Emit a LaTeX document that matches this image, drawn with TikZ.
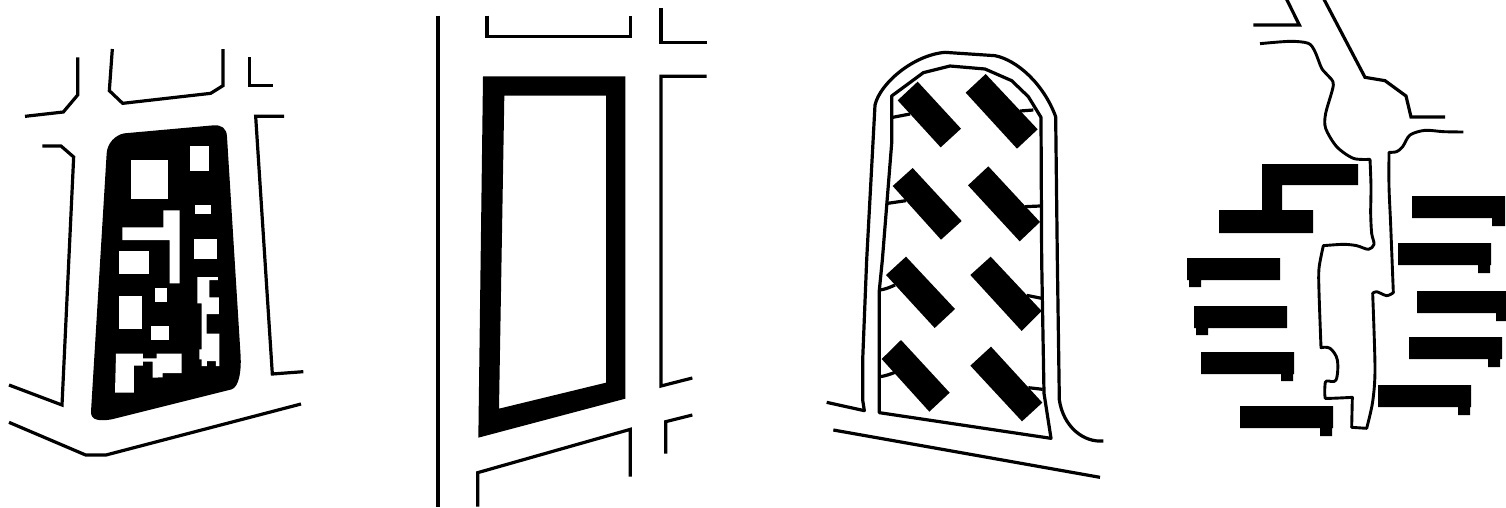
\documentclass[tikz,border=0pt]{standalone}
\tikzset{
  road/.style={draw=black,line width=3.2pt,miter limit=10,fill=none},
  thinroad/.style={draw=black,line width=2.9pt,line join=round},
  zoomed/.style={x=0.33333pt,y=-0.33333pt},
  solid block/.style={fill=black,draw=none},
  hole/.style={fill=white,draw=none}
}
\begin{document}
\begin{tikzpicture}
\useasboundingbox (0pt,0pt) rectangle (1506pt,-507pt);
% Panel 1
\begin{scope}[shift={(0pt,-40pt)},zoomed]
\draw[road] (233,52) -- (233,165) -- (190,216) -- (75,229);
\draw[road] (337,27) -- (328,152) -- (368,190) -- (632,160) -- (669,137) -- (669,27);
\draw[road] (749,52) -- (749,137) -- (820,137);
\draw[road] (852,229) -- (767,229) -- (817,1002) -- (910,995);
\draw[road] (127,318) -- (183,318) -- (221,351) -- (186,1095) -- (27,1035);
\draw[road] (27,1147) -- (257,1245) -- (318,1245) -- (903,1092);
\fill[solid block] (373,280) -- (640,256) .. controls (665,254) and (680,265) .. (681,290)
  -- (722,950) .. controls (724,990) and (718,1040) .. (695,1048)
  -- (335,1138) .. controls (300,1144) and (272,1142) .. (273,1115)
  -- (320,340) .. controls (322,310) and (345,285) .. (373,280) -- cycle;
\fill[hole] (392,361) rectangle (504,476);
\fill[hole] (571,318) rectangle (628,394);
\fill[hole] (584,495) rectangle (633,521);
\fill[hole] (490,511) -- (539,511) -- (539,730) -- (509,730) -- (509,600) -- (367,600) -- (367,562) -- (490,562) -- cycle;
\fill[hole] (583,598) rectangle (650,658);
\fill[hole] (358,633) rectangle (447,703);
\fill[hole] (464,745) rectangle (501,785);
\fill[hole] (358,769) rectangle (425,867);
\fill[hole] (453,858) rectangle (506,900);
\fill[hole] (592,711) -- (654,711) -- (654,720) -- (628,720) -- (628,772) -- (657,772) -- (657,822) -- (620,822) -- (620,881) -- (658,881) -- (658,978) -- (648,978) -- (648,963) -- (621,963) -- (621,978) -- (605,978) -- (605,958) -- (598,958) -- (598,928) -- (605,928) -- (605,790) -- (592,790) -- cycle;
\fill[hole] (348,941) -- (429,941) -- (429,955) -- (470,955) -- (470,941) -- (545,941) -- (545,999) -- (488,999) -- (488,1012) -- (458,1013) -- (458,965) -- (429,965) -- (429,977) -- (402,977) -- (402,1058) -- (345,1058) -- cycle;
\end{scope}
% Panel 2
\begin{scope}[shift={(425pt,0pt)},zoomed]
\draw[road] (39,47) -- (39,1520);
\draw[road] (186,47) -- (186,110) -- (616,110) -- (616,47);
\draw[road] (708,25) -- (708,127) -- (845,127);
\draw[road] (845,229) -- (708,229) -- (708,1158) -- (802,1134);
\draw[road] (722,1361) -- (722,1265) -- (802,1245);
\draw[road] (158,1520) -- (158,1418) -- (616,1288) -- (616,1430);
\fill[solid block,even odd rule] (174,229) -- (601,229) -- (601,1196) -- (160,1313) -- cycle
  (238,287) -- (543,287) -- (543,1148) -- (222,1226) -- cycle;
\end{scope}
% Panel 3, upper crop coordinates
\begin{scope}[shift={(820pt,-40pt)},zoomed]
\draw[road,line join=round] (20,1087) -- (133,1112) -- (128,1080) -- (128,960) -- (140,660) -- (165,195)
  .. controls (180,130) and (280,45) .. (375,37) -- (525,47)
  .. controls (590,60) and (670,130) .. (707,230) -- (712,660) -- (718,1080)
  .. controls (730,1160) and (790,1208) .. (850,1203);
\draw[road,line join=round] (215,168) -- (310,98) -- (390,78) -- (495,87) -- (575,122) -- (625,170) -- (663,232)
  -- (665,660) -- (672,1060) -- (693,1195) -- (178,1118) -- (178,750) -- (187,660) -- (215,310) -- cycle;
\draw[road] (218,232) -- (270,222);
\draw[road] (600,213) -- (640,210);
\draw[road] (203,490) -- (258,482);
\draw[road] (615,500) -- (660,498);
\draw[road] (180,750) .. controls (195,748) and (210,742) .. (225,735);
\draw[road] (620,766) -- (665,775);
\draw[road] (180,1010) .. controls (195,1008) and (210,1003) .. (225,997);
\draw[road] (625,1043) -- (668,1048);
\draw[road] (40,1170) -- (840,1312);
\fill[solid block] (293,125) -- (423,266) -- (362,322) -- (233,181) -- cycle;
\fill[solid block] (497,102) -- (653,268) -- (591,326) -- (437,158) -- cycle;
\fill[solid block] (278,384) -- (425,543) -- (363,599) -- (218,438) -- cycle;
\fill[solid block] (505,379) -- (660,546) -- (599,604) -- (444,436) -- cycle;
\fill[solid block] (258,650) -- (405,807) -- (344,864) -- (198,705) -- cycle;
\fill[solid block] (512,650) -- (665,813) -- (605,873) -- (451,705) -- cycle;
\fill[solid block] (243,900) -- (389,1058) -- (328,1115) -- (185,957) -- cycle;
\fill[solid block] (513,920) -- (667,1088) -- (606,1144) -- (451,977) -- cycle;
\end{scope}
% Panel 4
\begin{scope}[shift={(1180pt,0pt)},zoomed]
\draw[road] (220,75) -- (358,75) -- (320,-2);
\draw[road] (432,-2) -- (555,232) -- (615,242) -- (678,288) -- (693,351) -- (795,351);
\draw[thinroad]
  plot[smooth,tension=.5] coordinates {(240,131) (330,124) (385,130) (405,155) (425,205) (445,228) (460,255) (437,340) (437,385) (470,440) (520,475) (570,478)}
  -- plot[smooth,tension=.5] coordinates {(570,478) (573,560) (572,640) (575,700) (582,733) (565,748) (530,737) (490,733) (430,737)}
  -- plot[smooth,tension=.5] coordinates {(430,737) (417,805) (417,875) (423,1043)}
  -- plot[smooth,tension=.6] coordinates {(423,1043) (450,1045) (472,1080) (468,1140) (440,1143) (435,1155) (435,1190) (445,1195) (517,1192)}
  -- (515,1282) -- (560,1285)
  -- plot[smooth,tension=.5] coordinates {(560,1285) (578,1205) (585,1105) (578,880)}
  -- plot[smooth,tension=.5] coordinates {(578,880) (590,875) (620,887) (640,878)}
  -- plot[smooth,tension=.5] coordinates {(640,878) (632,675) (627,560) (627,457)}
  -- plot[smooth,tension=.5] coordinates {(627,457) (650,455) (668,440) (690,405) (735,391) (790,395) (850,396)};
\fill[solid block] (246,492) -- (534,492) -- (534,555) -- (306,555) -- (306,630) -- (399,630) -- (399,699) -- (117,699) -- (117,630) -- (246,630) -- cycle;
\fill[solid block] (696,588) rectangle (975,654) (936,654) rectangle (975,678);
\fill[solid block] (654,729) rectangle (933,795) (894,795) rectangle (930,819);
\fill[solid block] (711,873) rectangle (978,939) (948,939) rectangle (978,963);
\fill[solid block] (687,1011) rectangle (966,1077) (924,1077) rectangle (960,1101);
\fill[solid block] (594,1155) rectangle (873,1221) (834,1221) rectangle (870,1245);
\fill[solid block] (21,774) rectangle (300,840) (27,840) rectangle (63,861);
\fill[solid block] (42,918) rectangle (321,984) (48,984) rectangle (84,1005);
\fill[solid block] (63,1056) rectangle (342,1122) (303,1122) rectangle (339,1143);
\fill[solid block] (180,1218) rectangle (459,1284) (420,1284) rectangle (456,1308);
\end{scope}
\end{tikzpicture}
\end{document}
